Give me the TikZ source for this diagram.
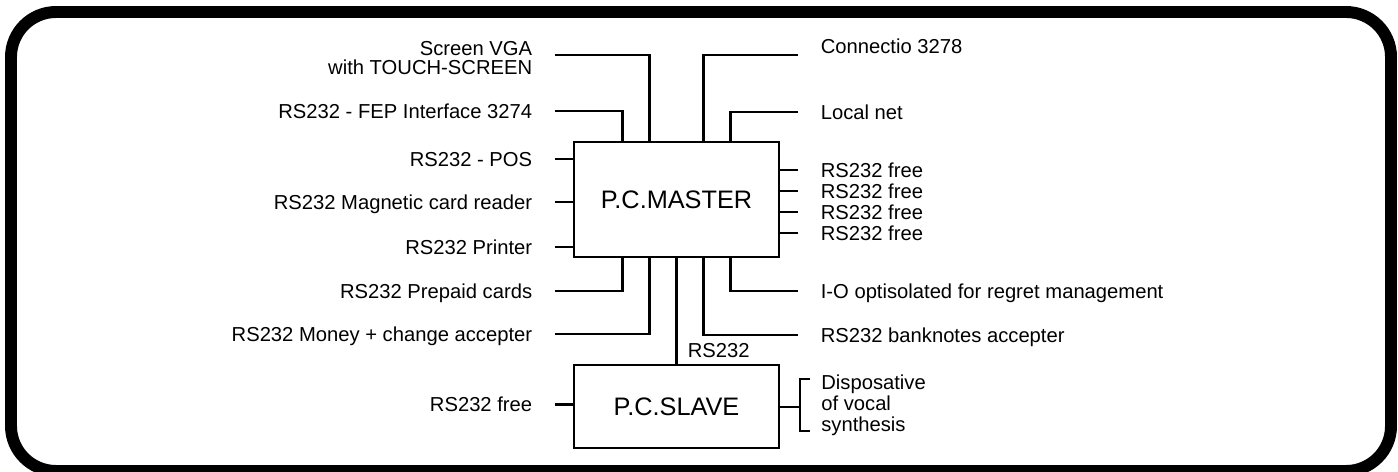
\documentclass[tikz,border=0pt]{standalone}
\usepackage{fontspec}
\setmainfont{Liberation Sans}
\usetikzlibrary{positioning, calc}

\newcommand{\lblfont}{\fontsize{11.5}{13}\selectfont}
\newcommand{\boxfont}{\fontsize{14.4}{17}\selectfont}

\begin{document}
\begin{tikzpicture}[
    x=0.02cm, y=-0.02cm,
    node distance=2.12cm,
    pcbox/.style={rectangle, draw, line width=1.2pt, minimum width=4.1cm, inner sep=0pt, font=\boxfont},
    lbl/.style={font=\lblfont, inner xsep=0.45cm, inner ysep=0pt, text height=8.2pt, text depth=0pt},
    multi/.style={inner xsep=0.45cm, inner ysep=0pt},
    wire/.style={line width=1.2pt}
]
    \useasboundingbox (0,0) rectangle (1398,472);
    \draw[line width=6.8pt, rounded corners=0.9cm] (11,12) rectangle (1391,471);

    \node[pcbox, minimum height=2.3cm] (master) at (676.5,199.5) {P.C.MASTER};
    \node[pcbox, minimum height=1.66cm, below=of master] (slave) {P.C.SLAVE};

    \node[multi, align=right, font={\fontsize{11.5}{10.8}\selectfont}, anchor=east] (scr) at (555,58.3) {Screen VGA\\with TOUCH-SCREEN};
    \node[lbl, anchor=east] (fep) at (555,111) {RS232 - FEP Interface 3274};
    \node[lbl, anchor=east] (pos) at (555,159) {RS232 - POS};
    \node[lbl, anchor=east] (mag) at (555,202) {RS232 Magnetic card reader};
    \node[lbl, anchor=east] (prn) at (555,247) {RS232 Printer};
    \node[lbl, anchor=east] (ppd) at (555,291) {RS232 Prepaid cards};
    \node[lbl, anchor=east] (mny) at (555,334) {RS232 Money + change accepter};
    \node[lbl, anchor=east] (sfr) at (555,404.5) {RS232 free};

    \node[lbl, anchor=west] (con) at (798,46) {Connectio 3278};
    \node[lbl, anchor=west] (lan) at (798,112) {Local net};
    \node[lbl, anchor=west] (fr1) at (798,170) {RS232 free};
    \node[lbl, anchor=west] (fr2) at (798,191) {RS232 free};
    \node[lbl, anchor=west] (fr3) at (798,212) {RS232 free};
    \node[lbl, anchor=west] (fr4) at (798,233) {RS232 free};
    \node[lbl, anchor=west] (io) at (798,291) {I-O optisolated for regret management};
    \node[lbl, anchor=west] (bnk) at (798,335) {RS232 banknotes accepter};
    \node[multi, align=left, font={\fontsize{11.5}{11.9}\selectfont}, inner xsep=0.22cm, anchor=west] (voc) at (810,405) {Disposative\\of vocal\\synthesis};
    \node[font=\lblfont, inner sep=0pt, anchor=base west] (lnk) at ([xshift=0.22cm, yshift=0.14cm]slave.north) {RS232};

    \draw[wire] ([yshift=0.066cm]scr.east) -| ([xshift=-0.54cm]master.north);
    \draw[wire] (fep.east) -| ([xshift=-1.08cm]master.north);
    \foreach \n in {pos, mag, prn}
        \draw[wire] (\n.east) -- (\n.east -| master.west);
    \draw[wire] (ppd.east) -| ([xshift=-1.08cm]master.south);
    \draw[wire] (mny.east) -| ([xshift=-0.54cm]master.south);
    \draw[wire] (sfr.east) -- (sfr.east -| slave.west);

    \draw[wire] ([yshift=-0.18cm]con.west) -| ([xshift=0.54cm]master.north);
    \draw[wire] (lan.west) -| ([xshift=1.08cm]master.north);
    \foreach \n in {fr1, fr2, fr3, fr4}
        \draw[wire] (\n.west) -- (\n.west -| master.east);
    \draw[wire] (io.west) -| ([xshift=1.08cm]master.south);
    \draw[wire] (bnk.west) -| ([xshift=0.54cm]master.south);

    \draw[wire] (master.south) -- (slave.north);
    \draw[wire] (slave.east) -- ++(21,0);
    \draw[wire] ($(voc.west)+(0,-26)$) -- ++(-10,0) -- ++(0,52) -- ++(10,0);
\end{tikzpicture}
\end{document}
